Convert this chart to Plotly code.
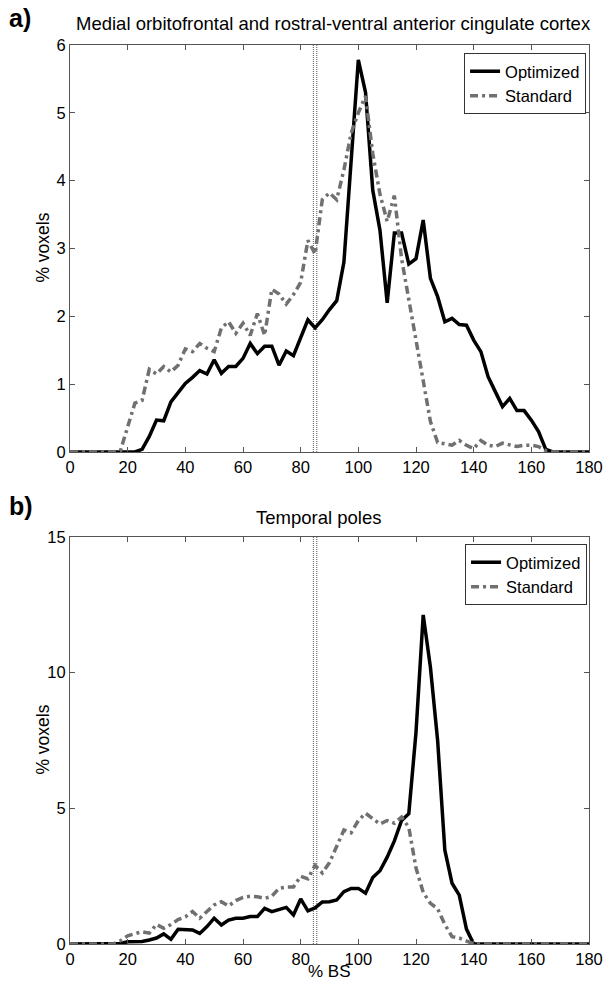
import numpy as np
import plotly.graph_objects as go

# ---------------- data ----------------
bs_percent = list(np.arange(0, 180.01, 2.5))  # bin centres (% BS)
threshold = 85

a_optimized = [0, 0, 0, 0, 0, 0, 0, 0, 0, 0,
               0.04, 0.23, 0.47, 0.46, 0.74, 0.88, 1.01, 1.10, 1.20, 1.15,
               1.36, 1.16, 1.26, 1.26, 1.38, 1.60, 1.45, 1.56, 1.56, 1.28,
               1.49, 1.42, 1.70, 1.95, 1.83, 1.95, 2.10, 2.23, 2.80, 4.30,
               5.78, 5.30, 3.86, 3.27, 2.20, 3.23, 3.23, 2.77, 2.85, 3.42,
               2.56, 2.29, 1.92, 1.97, 1.88, 1.87, 1.65, 1.48, 1.11, 0.89,
               0.67, 0.79, 0.61, 0.61, 0.47, 0.30, 0.04, 0, 0, 0,
               0, 0, 0]
a_standard = [0, 0, 0, 0, 0, 0, 0, 0.02, 0.35, 0.72,
              0.76, 1.22, 1.15, 1.26, 1.18, 1.28, 1.52, 1.48, 1.60, 1.53,
              1.48, 1.83, 1.92, 1.75, 1.90, 1.72, 2.04, 1.72, 2.40, 2.33,
              2.18, 2.32, 2.50, 3.12, 2.92, 3.72, 3.82, 3.72, 4.16, 4.70,
              5.00, 5.25, 4.40, 3.80, 3.40, 3.78, 2.85, 2.25, 1.65, 1.12,
              0.45, 0.14, 0.12, 0.10, 0.17, 0.10, 0.05, 0.17, 0.10, 0.08,
              0.13, 0.10, 0.08, 0.10, 0.10, 0.08, 0.02, 0, 0, 0,
              0, 0, 0]
b_optimized = [0, 0, 0, 0, 0, 0, 0, 0.02, 0.08, 0.10,
               0.09, 0.15, 0.22, 0.37, 0.17, 0.54, 0.54, 0.52, 0.39, 0.64,
               0.95, 0.70, 0.88, 0.95, 0.95, 1.01, 1.01, 1.31, 1.19, 1.28,
               1.35, 1.07, 1.66, 1.22, 1.33, 1.55, 1.56, 1.62, 1.93, 2.05,
               2.05, 1.87, 2.45, 2.70, 3.20, 3.80, 4.55, 4.80, 7.80, 12.13,
               10.20, 7.50, 3.46, 2.24, 1.80, 0.55, 0, 0, 0, 0,
               0, 0, 0, 0, 0, 0, 0, 0, 0, 0,
               0, 0, 0]
b_standard = [0, 0, 0, 0, 0, 0, 0, 0.12, 0.30, 0.38,
              0.45, 0.40, 0.72, 0.58, 0.72, 0.90, 1.00, 1.20, 0.95, 1.20,
              1.44, 1.56, 1.40, 1.60, 1.72, 1.76, 1.74, 1.68, 1.76, 2.05,
              2.10, 2.10, 2.50, 2.40, 2.90, 2.62, 3.00, 3.60, 4.20, 4.10,
              4.55, 4.82, 4.60, 4.42, 4.55, 4.45, 4.68, 4.30, 2.80, 1.90,
              1.50, 1.30, 0.72, 0.27, 0.22, 0.10, 0, 0, 0, 0,
              0, 0, 0, 0, 0, 0, 0, 0, 0, 0,
              0, 0, 0]

x_ticks = [0, 20, 40, 60, 80, 100, 120, 140, 160, 180]
a_yticks = [0, 1, 2, 3, 4, 5, 6]
b_yticks = [0, 5, 10, 15]

title_a = "Medial orbitofrontal and rostral-ventral anterior cingulate cortex"
title_b = "Temporal poles"

# ---------------- figure ----------------
W, H = 615, 984
ML, MR, MT, MB = 70, 15, 45, 40
PH = H - MT - MB

def py(pix):  # pixel y -> paper y
    return (H - MB - pix) / PH

def px(pix):
    return (pix - ML) / (W - ML - MR)

FONT = "Liberation Sans, Arial, Helvetica, sans-serif"
OPT_STYLE = dict(color="black", width=3.5)
STD_STYLE = dict(color="#707070", width=3.5, dash="8px,4px,3px,4px")

fig = go.Figure()
fig.add_trace(go.Scatter(x=bs_percent, y=a_optimized, mode="lines", name="Optimized",
                         line=OPT_STYLE, xaxis="x", yaxis="y", legend="legend"))
fig.add_trace(go.Scatter(x=bs_percent, y=a_standard, mode="lines", name="Standard",
                         line=STD_STYLE, xaxis="x", yaxis="y", legend="legend"))
fig.add_trace(go.Scatter(x=bs_percent, y=b_optimized, mode="lines", name="Optimized",
                         line=OPT_STYLE, xaxis="x2", yaxis="y2", legend="legend2"))
fig.add_trace(go.Scatter(x=bs_percent, y=b_standard, mode="lines", name="Standard",
                         line=STD_STYLE, xaxis="x2", yaxis="y2", legend="legend2"))

axis_common = dict(showline=True, linecolor="#555", linewidth=1, mirror="ticks",
                   ticks="inside", ticklen=5, tickcolor="#555", showgrid=False,
                   zeroline=False, tickfont=dict(size=16.5, color="black", family=FONT))

legend_common = dict(xanchor="right", yanchor="top", bordercolor="#333", borderwidth=1,
                     bgcolor="white", font=dict(size=16.5, family=FONT),
                     tracegroupgap=0, itemwidth=30)

fig.update_layout(
    width=W, height=H,
    margin=dict(l=ML, r=MR, t=MT, b=MB),
    paper_bgcolor="white", plot_bgcolor="white",
    font=dict(family=FONT, color="black"),
    xaxis=dict(domain=[0, 1], range=[0, 180], tickvals=x_ticks, anchor="y", **axis_common),
    yaxis=dict(domain=[py(452), 1], range=[0, 6], tickvals=a_yticks, anchor="x", **axis_common),
    xaxis2=dict(domain=[0, 1], range=[0, 180], tickvals=x_ticks, anchor="y2", **axis_common),
    yaxis2=dict(domain=[0, py(537)], range=[0, 15], tickvals=b_yticks, anchor="x2", **axis_common),
    legend=dict(x=px(597), y=py(53), **legend_common),
    legend2=dict(x=px(598), y=py(544), **legend_common),
    showlegend=True,
)

# threshold reference line (double dotted)
for xr, yr in (("x", "y domain"), ("x2", "y2 domain")):
    for off in (-0.6, 0.6):
        fig.add_shape(type="line", xref=xr, yref=yr, x0=threshold + off, x1=threshold + off,
                      y0=0, y1=1, line=dict(color="#555", width=1, dash="1px,1px"), layer="below")

ann = [
    dict(text="<b>a)</b>", x=px(6), y=py(18), xanchor="left", yanchor="middle", font=dict(size=25)),
    dict(text="<b>b)</b>", x=px(6), y=py(506), xanchor="left", yanchor="middle", font=dict(size=25)),
    dict(text=title_a, x=px(339), y=py(23), xanchor="center", yanchor="middle", font=dict(size=18.5)),
    dict(text=title_b, x=px(324), y=py(517), xanchor="center", yanchor="middle", font=dict(size=18.5)),
    dict(text="% voxels", x=px(42), y=py(248), xanchor="center", yanchor="middle",
         textangle=-90, font=dict(size=17.5)),
    dict(text="% voxels", x=px(42), y=py(740), xanchor="center", yanchor="middle",
         textangle=-90, font=dict(size=17.5)),
    dict(text="% BS", x=px(335), y=py(983), xanchor="center", yanchor="bottom", font=dict(size=17)),
]
for a in ann:
    f = a.pop("font")
    f.update(family=FONT, color="black")
    fig.add_annotation(xref="paper", yref="paper", showarrow=False, font=f, **a)

fig.write_html("out.html")
